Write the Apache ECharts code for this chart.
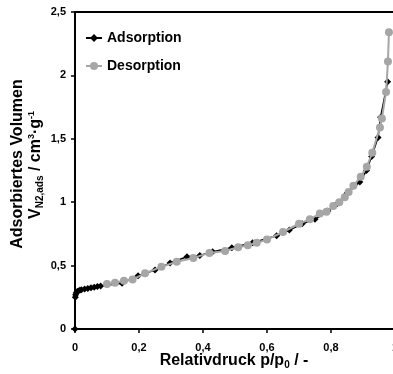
<!DOCTYPE html>
<html>
<head>
<meta charset="utf-8">
<script src="https://cdn.jsdelivr.net/npm/echarts@6/dist/echarts.min.js"></script>
<style>html,body{margin:0;padding:0;background:#fff}#c{width:393px;height:374px}</style>
</head>
<body>
<div id="c"></div>
<script>
var xTicks = [0, 0.2, 0.4, 0.6, 0.8, 1];
var yTicks = [0, 0.5, 1, 1.5, 2, 2.5];

var adsP = [0, 0.001, 0.002, 0.004, 0.007, 0.01, 0.015, 0.02, 0.03, 0.04, 0.05, 0.06, 0.07, 0.08,
  0.147, 0.197, 0.25, 0.297, 0.35, 0.39, 0.43, 0.49, 0.555, 0.63, 0.67, 0.71, 0.75, 0.79, 0.82, 0.85, 0.89, 0.911, 0.927, 0.947, 0.955, 0.977];
var adsV = [0, 0.25, 0.27, 0.285, 0.295, 0.30, 0.305, 0.31, 0.315, 0.32, 0.325, 0.33, 0.335, 0.34,
  0.36, 0.42, 0.465, 0.52, 0.57, 0.58, 0.61, 0.64, 0.68, 0.735, 0.78, 0.83, 0.865, 0.93, 0.99, 1.07, 1.16, 1.25, 1.36, 1.51, 1.67, 1.95];

var desP = [0.981, 0.978, 0.972, 0.959, 0.953, 0.929, 0.912, 0.893, 0.87, 0.855, 0.843, 0.826, 0.807, 0.786, 0.765, 0.734, 0.70, 0.65, 0.60, 0.568, 0.54, 0.51, 0.469, 0.42, 0.37, 0.318, 0.27, 0.219, 0.18, 0.153, 0.125, 0.10];
var desV = [2.34, 2.11, 1.87, 1.66, 1.59, 1.39, 1.28, 1.20, 1.13, 1.08, 1.04, 1.00, 0.97, 0.925, 0.91, 0.865, 0.83, 0.765, 0.705, 0.68, 0.66, 0.645, 0.615, 0.60, 0.56, 0.53, 0.49, 0.44, 0.39, 0.38, 0.365, 0.355];

function zip(a, b) { return a.map(function (v, i) { return [v, b[i]]; }); }
function fmt(v) { return String(v).replace('.', ','); }

var FONT = 'Liberation Sans, Arial, sans-serif';
var chart = echarts.init(document.getElementById('c'));
chart.setOption({
  animation: false,
  grid: { left: 75, right: -2, top: 12, bottom: 45, show: true, borderColor: '#000', borderWidth: 2, outerBoundsMode: 'none', containLabel: false },
  xAxis: {
    type: 'value', min: 0, max: 1, interval: 0.2,
    axisLine: { lineStyle: { color: '#000', width: 2 } },
    axisTick: { show: true, length: 4, lineStyle: { color: '#000', width: 1.5 } },
    axisLabel: { color: '#000', fontFamily: FONT, fontWeight: 'bold', fontSize: 11, margin: 13, formatter: fmt },
    splitLine: { show: false }
  },
  yAxis: {
    type: 'value', min: 0, max: 2.5, interval: 0.5,
    axisLine: { show: true, lineStyle: { color: '#000', width: 2 } },
    axisTick: { show: true, length: 4, lineStyle: { color: '#000', width: 1.5 } },
    axisLabel: { color: '#000', fontFamily: FONT, fontWeight: 'bold', fontSize: 11, margin: 9, formatter: fmt },
    splitLine: { show: false }
  },
  legend: {
    orient: 'vertical', left: 85, top: 31, padding: 0, itemGap: 14, itemWidth: 16, itemHeight: 10,
    textStyle: { color: '#000', fontFamily: FONT, fontWeight: 'bold', fontSize: 14 },
    data: ['Adsorption', 'Desorption']
  },
  series: [
    {
      name: 'Adsorption', type: 'line', data: zip(adsP, adsV),
      symbol: 'diamond', symbolSize: 7,
      itemStyle: { color: '#000' }, lineStyle: { color: '#000', width: 1.5 }, z: 2
    },
    {
      name: 'Desorption', type: 'line', data: zip(desP, desV),
      symbol: 'circle', symbolSize: 8,
      itemStyle: { color: '#a6a6a6' }, lineStyle: { color: '#a6a6a6', width: 2 }, z: 3
    }
  ],
  graphic: [
    {
      type: 'text', x: 18, y: 164, rotation: Math.PI / 2,
      style: { text: 'Adsorbiertes Volumen', font: 'bold 16px ' + FONT, fill: '#000', align: 'center', verticalAlign: 'middle' }
    },
    {
      type: 'text', x: 36, y: 165, rotation: Math.PI / 2,
      style: {
        text: '{a|V}{s|N2,ads}{a| / cm}{p|3}{a|·g}{p|-1}',
        align: 'center', verticalAlign: 'middle',
        rich: {
          a: { font: 'bold 16px ' + FONT, fill: '#000', lineHeight: 18, verticalAlign: 'middle' },
          s: { font: 'bold 10px ' + FONT, fill: '#000', lineHeight: 11, verticalAlign: 'bottom' },
          p: { font: 'bold 9px ' + FONT, fill: '#000', lineHeight: 10, verticalAlign: 'top' }
        }
      }
    },
    {
      type: 'text', x: 234, y: 361,
      style: {
        text: '{a|Relativdruck p/p}{s|0}{a| / -}',
        align: 'center', verticalAlign: 'middle',
        rich: {
          a: { font: 'bold 16px ' + FONT, fill: '#000', lineHeight: 18, verticalAlign: 'middle' },
          s: { font: 'bold 10px ' + FONT, fill: '#000', lineHeight: 11, verticalAlign: 'bottom' }
        }
      }
    }
  ]
});
</script>
</body>
</html>
